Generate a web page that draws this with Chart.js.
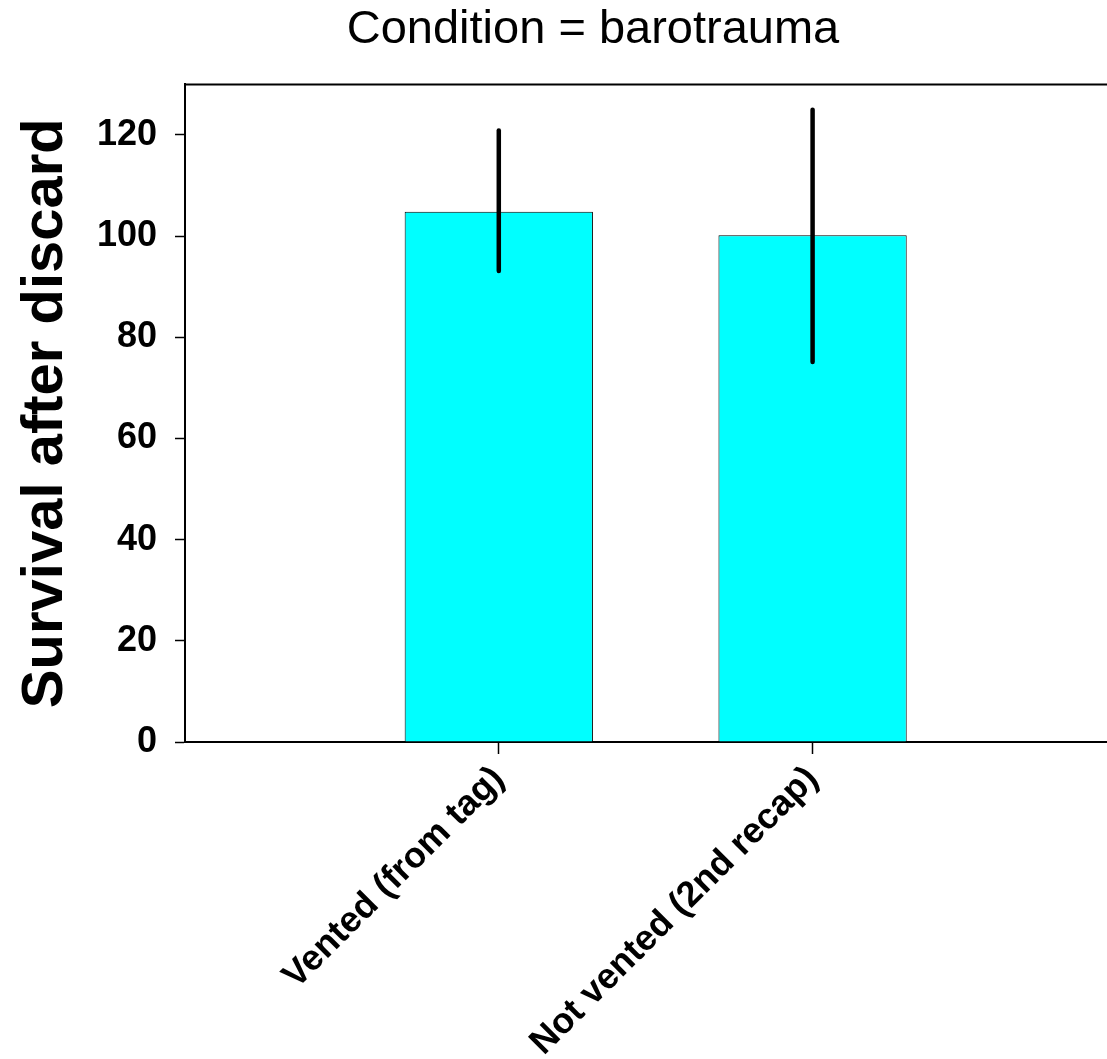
<!DOCTYPE html>
<html>
<head>
<meta charset="utf-8">
<script src="https://cdn.jsdelivr.net/npm/chart.js@4/dist/chart.umd.min.js"></script>
<style>
  html, body { margin: 0; padding: 0; overflow: hidden; background: #fff; width: 1107px; height: 1059px; }
  #wrap { width: 1186px; height: 1059px; }
</style>
</head>
<body>
<div id="wrap"><canvas id="c" width="1186" height="1059"></canvas></div>
<script>
const titleText = 'Condition = barotrauma';
const yAxisTitle = 'Survival after discard';
const categories = ['Vented (from tag)', 'Not vented (2nd recap)'];
const positions = [1, 2];
const means = [104.8, 100.2];
const errLow = [93.1, 75.1];
const errHigh = [120.9, 125.0];
const yTicks = [0, 20, 40, 60, 80, 100, 120];
const yMin = 0, yMax = 130;
const xMin = 0, xMax = 3.19;

const FONT = "'Liberation Sans', Arial, Helvetica, sans-serif";

const errorBars = {
  id: 'errorBars',
  afterDatasetsDraw(chart) {
    const ctx = chart.ctx, xs = chart.scales.x, ys = chart.scales.y;
    ctx.save();
    ctx.strokeStyle = '#000';
    ctx.lineWidth = 4.5;
    ctx.lineCap = 'round';
    for (let i = 0; i < positions.length; i++) {
      const x = xs.getPixelForValue(positions[i]);
      ctx.beginPath();
      ctx.moveTo(x, ys.getPixelForValue(errLow[i]));
      ctx.lineTo(x, ys.getPixelForValue(errHigh[i]));
      ctx.stroke();
    }
    ctx.restore();
  }
};
const topBorder = {
  id: 'topBorder',
  afterDraw(chart) {
    const a = chart.chartArea, ctx = chart.ctx;
    ctx.save();
    ctx.strokeStyle = '#000';
    ctx.lineWidth = 2;
    ctx.beginPath();
    ctx.moveTo(a.left - 1, a.top);
    ctx.lineTo(chart.width, a.top);
    ctx.stroke();
    ctx.restore();
  }
};

new Chart(document.getElementById('c'), {
  type: 'bar',
  data: {
    datasets: [{
      data: positions.map((p, i) => ({ x: p, y: means[i] })),
      backgroundColor: '#00FFFF',
      borderColor: '#000',
      borderWidth: 1,
      barPercentage: 0.6,
      categoryPercentage: 1.0
    }]
  },
  options: {
    responsive: false,
    animation: false,
    devicePixelRatio: 1,
    layout: { padding: 0 },
    plugins: {
      legend: { display: false },
      tooltip: { enabled: false },
      title: {
        display: true,
        text: titleText,
        color: '#000',
        font: { family: FONT, size: 47, weight: 'normal' },
        padding: { top: 2, bottom: 26 }
      }
    },
    scales: {
      x: {
        type: 'linear',
        offset: false,
        min: xMin, max: xMax,
        afterBuildTicks(scale) { scale.ticks = positions.map(v => ({ value: v })); },
        afterFit(scale) { scale.height = 1059 - 742; },
        border: { display: true, color: '#000', width: 2 },
        grid: { offset: false, drawOnChartArea: false, drawTicks: true, tickLength: 12, tickColor: '#000', tickWidth: 1.5 },
        ticks: {
          color: '#000',
          font: { family: FONT, size: 36, weight: 'bold' },
          minRotation: 45, maxRotation: 45,
          padding: 4,
          callback(v) { const i = positions.indexOf(v); return i >= 0 ? categories[i] : ''; }
        }
      },
      y: {
        type: 'linear',
        min: yMin, max: yMax,
        afterBuildTicks(scale) { scale.ticks = yTicks.map(v => ({ value: v })); },
        afterFit(scale) { scale.width = 185; },
        border: { display: true, color: '#000', width: 2 },
        grid: { drawOnChartArea: false, drawTicks: true, tickLength: 10, tickColor: '#000', tickWidth: 1.5 },
        ticks: {
          color: '#000',
          font: { family: FONT, size: 36, weight: 'bold' },
          padding: 18
        },
        title: {
          display: true,
          text: yAxisTitle,
          color: '#000',
          font: { family: FONT, size: 58, weight: 'bold' },
          padding: { top: 11, bottom: 0 }
        }
      }
    }
  },
  plugins: [errorBars, topBorder]
});
</script>
</body>
</html>
